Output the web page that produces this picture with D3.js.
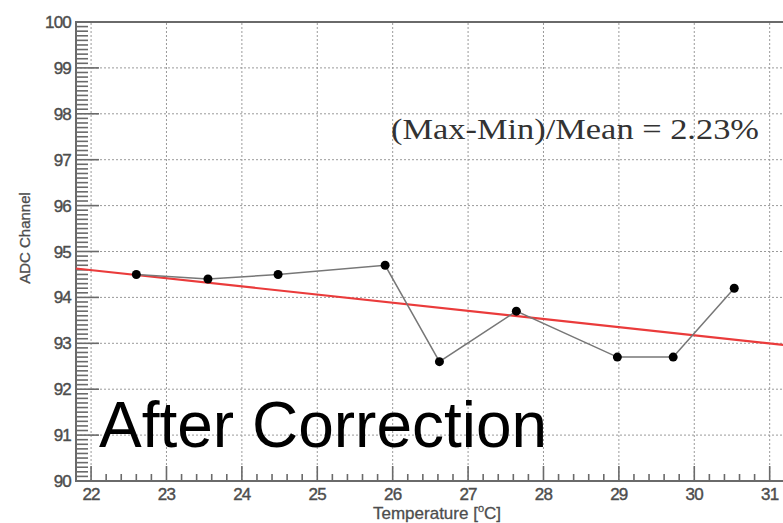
<!DOCTYPE html>
<html>
<head>
<meta charset="utf-8">
<script src="https://cdn.jsdelivr.net/npm/d3@7"></script>
<style>
  html, body { margin: 0; padding: 0; background: #fff; overflow: hidden; }
  svg { display: block; }
</style>
</head>
<body>
<div id="chart"></div>
<script>
// Measured temperatures and ADC channel means (after correction)
const temps = [22.6, 23.55, 24.48, 25.9, 26.62, 27.64, 28.98, 29.72, 30.53];
const adc   = [94.5, 94.4, 94.5, 94.7, 92.6, 93.7, 92.7, 92.7, 94.2];

// Linear fit, given by its two end points
const fitX = [21.8, 31.2];
const fitY = [94.63, 92.96];

const xTicks = [22, 23, 24, 25, 26, 27, 28, 29, 30, 31];
const yTicks = [90, 91, 92, 93, 94, 95, 96, 97, 98, 99, 100];

const annotation = "(Max-Min)/Mean = 2.23%";
const overlayText = "After Correction";

const W = 783, H = 523;
const margin = { top: 22, left: 76, bottom: 42 };

const svg = d3.select("#chart").append("svg")
    .attr("width", W)
    .attr("height", H);

// plot continues past the right edge of the picture
const x = d3.scaleLinear().domain([21.8, 31.2]).range([margin.left, margin.left + 9.4 * 75.4]);
const y = d3.scaleLinear().domain([90, 100]).range([H - margin.bottom, margin.top]);

const x0 = x.range()[0], x1 = x.range()[1];
const y0 = y.range()[0], y1 = y.range()[1];

// Grid
const grid = svg.append("g").attr("stroke", "#9a9a9a").attr("stroke-width", 1)
    .attr("stroke-dasharray", "2,2");
grid.selectAll(".vg").data(xTicks).enter().append("line")
    .attr("x1", d => x(d)).attr("x2", d => x(d))
    .attr("y1", y0).attr("y2", y1);
grid.selectAll(".hg").data(yTicks.slice(1, -1)).enter().append("line")
    .attr("x1", x0).attr("x2", x1)
    .attr("y1", d => y(d)).attr("y2", d => y(d));

// Minor / major ticks
const axisCol = "#6a6a6a";
const ticks = svg.append("g").attr("stroke", axisCol).attr("stroke-width", 1.6);
const yMinor = d3.range(900, 1001).map(v => v / 10);
ticks.selectAll(".ymt").data(yMinor).enter().append("line")
    .attr("x1", x0)
    .attr("x2", d => x0 + (Math.abs(d - Math.round(d)) < 1e-6 ? 23 : 12))
    .attr("y1", d => y(d)).attr("y2", d => y(d));
const xMinor = d3.range(218, 313, 2).map(v => v / 10);
ticks.selectAll(".xmt").data(xMinor).enter().append("line")
    .attr("x1", d => x(d)).attr("x2", d => x(d))
    .attr("y1", y0)
    .attr("y2", d => y0 - (Math.abs(d - Math.round(d)) < 1e-6 ? 15 : 7));

// Frame
svg.append("path")
    .attr("d", `M${x1},${y1}H${x0}V${y0}H${x1}`)
    .attr("fill", "none")
    .attr("stroke", axisCol)
    .attr("stroke-width", 2);

// Tick labels
const labFont = "'Liberation Sans', Arial, sans-serif";
const labCol = "#4d4d4d";
svg.append("g").selectAll("text").data(yTicks).enter().append("text")
    .attr("x", x0 - 5)
    .attr("y", d => y(d) + 6)
    .attr("text-anchor", "end")
    .attr("font-family", labFont)
    .attr("font-size", 17)
    .attr("fill", labCol)
    .attr("stroke", labCol)
    .attr("stroke-width", 0.4)
    .attr("letter-spacing", -0.8)
    .text(d => d);
svg.append("g").selectAll("text").data(xTicks).enter().append("text")
    .attr("x", d => x(d))
    .attr("y", y0 + 19)
    .attr("text-anchor", "middle")
    .attr("font-family", labFont)
    .attr("font-size", 17)
    .attr("fill", labCol)
    .attr("stroke", labCol)
    .attr("stroke-width", 0.4)
    .attr("letter-spacing", -0.8)
    .text(d => d);

// Axis titles
const xt = svg.append("text")
    .attr("x", 437)
    .attr("y", 519)
    .attr("text-anchor", "middle")
    .attr("font-family", labFont)
    .attr("font-size", 17)
    .attr("fill", labCol)
    .attr("stroke", labCol)
    .attr("stroke-width", 0.3);
xt.append("tspan").text("Temperature [");
xt.append("tspan").attr("font-size", 11).attr("dy", -7).text("o");
xt.append("tspan").attr("dy", 7).text("C]");

svg.append("text")
    .attr("transform", `translate(30,${238}) rotate(-90)`)
    .attr("text-anchor", "middle")
    .attr("font-family", labFont)
    .attr("font-size", 15)
    .attr("fill", labCol)
    .attr("stroke", labCol)
    .attr("stroke-width", 0.3)
    .text("ADC Channel");

// Fit line
svg.append("line")
    .attr("x1", x(fitX[0])).attr("y1", y(fitY[0]))
    .attr("x2", x(fitX[1])).attr("y2", y(fitY[1]))
    .attr("stroke", "#ea3b3b")
    .attr("stroke-width", 2.2);

// Data line + markers
const pts = temps.map((t, i) => [t, adc[i]]);
svg.append("path")
    .datum(pts)
    .attr("fill", "none")
    .attr("stroke", "#777")
    .attr("stroke-width", 1.5)
    .attr("d", d3.line().x(d => x(d[0])).y(d => y(d[1])));
svg.append("g").selectAll("circle").data(pts).enter().append("circle")
    .attr("cx", d => x(d[0]))
    .attr("cy", d => y(d[1]))
    .attr("r", 4.5)
    .attr("fill", "#000");

// Annotations
svg.append("text")
    .attr("x", 391)
    .attr("y", 139)
    .attr("font-family", "'Liberation Serif', 'Times New Roman', serif")
    .attr("font-size", 29)
    .attr("textLength", 368)
    .attr("lengthAdjust", "spacingAndGlyphs")
    .attr("fill", "#333")
    .text(annotation);

svg.append("text")
    .attr("x", 99)
    .attr("y", 447)
    .attr("font-family", "'Liberation Sans', Arial, sans-serif")
    .attr("font-size", 64)
    .attr("fill", "#000")
    .text(overlayText);
</script>
</body>
</html>
